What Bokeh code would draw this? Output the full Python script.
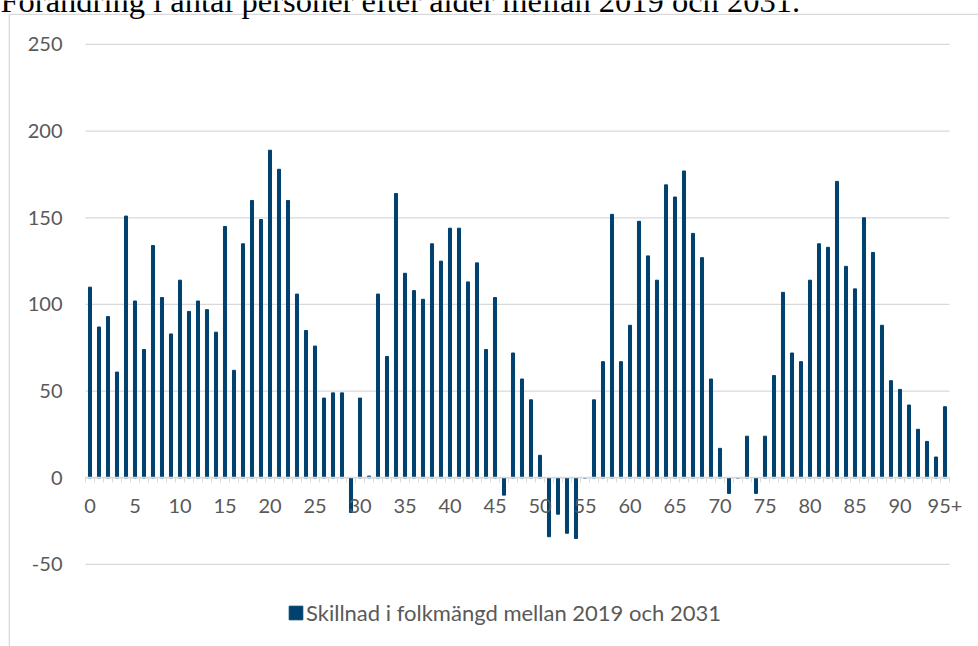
from bokeh.plotting import figure
from bokeh.models import (ColumnDataSource, Range1d, FixedTicker, Legend, LegendItem,
                          Label, LinearAxis, CustomJSTickFormatter)
from bokeh.embed import file_html
from bokeh.resources import INLINE

# ---- data ----
ages = [str(i) for i in range(95)] + ["95+"]
values = [110, 87, 93, 61, 151, 102, 74, 134, 104, 83,
          114, 96, 102, 97, 84, 145, 62, 135, 160, 149,
          189, 178, 160, 106, 85, 76, 46, 49, 49, -20,
          46, 1, 106, 70, 164, 118, 108, 103, 135, 125,
          144, 144, 113, 124, 74, 104, -10, 72, 57, 45,
          13, -34, -21, -32, -35, 0, 45, 67, 152, 67,
          88, 148, 128, 114, 169, 162, 177, 141, 127, 57,
          17, -9, 0, 24, -9, 24, 59, 107, 72, 67,
          114, 135, 133, 171, 122, 109, 150, 130, 88, 56,
          51, 42, 28, 21, 12, 41]
x_tick_positions = [0, 5, 10, 15, 20, 25, 30, 35, 40, 45, 50, 55, 60, 65, 70, 75, 80, 85, 90, 95]
x_tick_labels = ["0", "5", "10", "15", "20", "25", "30", "35", "40", "45", "50", "55",
                 "60", "65", "70", "75", "80", "85", "90", "95+"]
y_ticks = [-50, 0, 50, 100, 150, 200, 250]
y_tick_labels = ["-50", "0", "50", "100", "150", "200", "250"]
series_name = "Skillnad i folkmängd mellan 2019 och 2031"
title_text = "Förändring i antal personer efter ålder mellan 2019 och 2031."

# ---- style / layout ----
BAR = "#00416F"
GRID = "#D9D9D9"
TXT = "#595959"
FONT = "Lato"
W, H = 978, 646
PX_CAT = 9.0                 # pixels per category
PLOT_LEFT = 85.0             # pixel of the first category boundary
PX_UNIT = 520.0 / 300.0      # pixels per value unit
ZERO_Y = 477.3               # pixel row of value 0

n = len(ages)
x_start = -0.5 - PLOT_LEFT / PX_CAT
x_end = x_start + W / PX_CAT
y_top = ZERO_Y / PX_UNIT
y_bot = y_top - H / PX_UNIT

src = ColumnDataSource(dict(pos=list(range(n)), age=ages, val=values))

p = figure(width=W, height=H, output_backend="svg", toolbar_location=None,
           x_range=Range1d(x_start, x_end), y_range=Range1d(y_bot, y_top),
           x_axis_location=None, y_axis_location=None,
           min_border_left=0, min_border_right=0, min_border_top=0, min_border_bottom=0)
p.outline_line_color = None
p.background_fill_color = "white"
p.border_fill_color = "white"
p.xgrid.grid_line_color = None
p.ygrid.grid_line_color = None

# horizontal grid lines across the category area
gsrc = ColumnDataSource(dict(y=y_ticks))
p.segment(x0=-0.5, x1=n - 0.5, y0="y", y1="y", source=gsrc,
          line_color=GRID, line_width=1.3, level="underlay")

# chart border (top and left edges of the chart box)
bx = x_start + 8.8 / PX_CAT
by = y_top - 13.8 / PX_UNIT
p.segment(x0=[bx, bx], y0=[by, by], x1=[bx, x_end + 1], y1=[y_bot - 1, by],
          line_color=GRID, line_width=1.3, level="underlay")

r = p.vbar(x="pos", top="val", bottom=0, width=0.34, color=BAR, source=src)

# y axis
yaxis = LinearAxis(fixed_location=-0.5, ticker=FixedTicker(ticks=y_ticks))
yaxis.formatter = CustomJSTickFormatter(args=dict(positions=y_ticks, labels=y_tick_labels),
                                        code="const i = positions.indexOf(Math.round(tick)); return i < 0 ? '' : labels[i];")
yaxis.axis_line_color = None
yaxis.major_tick_line_color = None
yaxis.minor_tick_line_color = None
yaxis.major_tick_out = 0
yaxis.major_label_standoff = 23
yaxis.major_label_text_font = FONT
yaxis.major_label_text_font_size = "20px"
yaxis.major_label_text_color = TXT
p.add_layout(yaxis, "left")

# x axis at value 0
xaxis = LinearAxis(fixed_location=0, bounds=(-0.5, n - 0.5),
                   ticker=FixedTicker(ticks=x_tick_positions,
                                      minor_ticks=[i - 0.5 for i in range(n + 1)]))
xaxis.formatter = CustomJSTickFormatter(args=dict(positions=x_tick_positions, labels=x_tick_labels),
                                        code="const i = positions.indexOf(Math.round(tick)); return i < 0 ? '' : labels[i];")
xaxis.axis_line_color = GRID
xaxis.axis_line_width = 1.5
xaxis.major_tick_line_color = None
xaxis.major_tick_out = 0
xaxis.major_tick_in = 0
xaxis.minor_tick_line_color = GRID
xaxis.minor_tick_out = 5
xaxis.minor_tick_in = 0
xaxis.major_label_standoff = 16
xaxis.major_label_text_font = FONT
xaxis.major_label_text_font_size = "20px"
xaxis.major_label_text_color = TXT
p.add_layout(xaxis, "below")

legend = Legend(items=[LegendItem(label=series_name, renderers=[r])],
                location=(287, 20), orientation="horizontal",
                glyph_width=17, glyph_height=17, padding=0, margin=0, spacing=0,
                label_standoff=2,
                label_text_font=FONT, label_text_font_size="22px", label_text_color=TXT,
                border_line_color=None, background_fill_alpha=0)
p.add_layout(legend)

title = Label(x=x_start + 0 / PX_CAT, y=y_top - 0.3 / PX_UNIT, text=title_text,
              text_font="Liberation Serif", text_font_size="32.5px", text_color="black",
              text_baseline="alphabetic")
p.add_layout(title)

open("out.html", "w").write(file_html(p, INLINE))
